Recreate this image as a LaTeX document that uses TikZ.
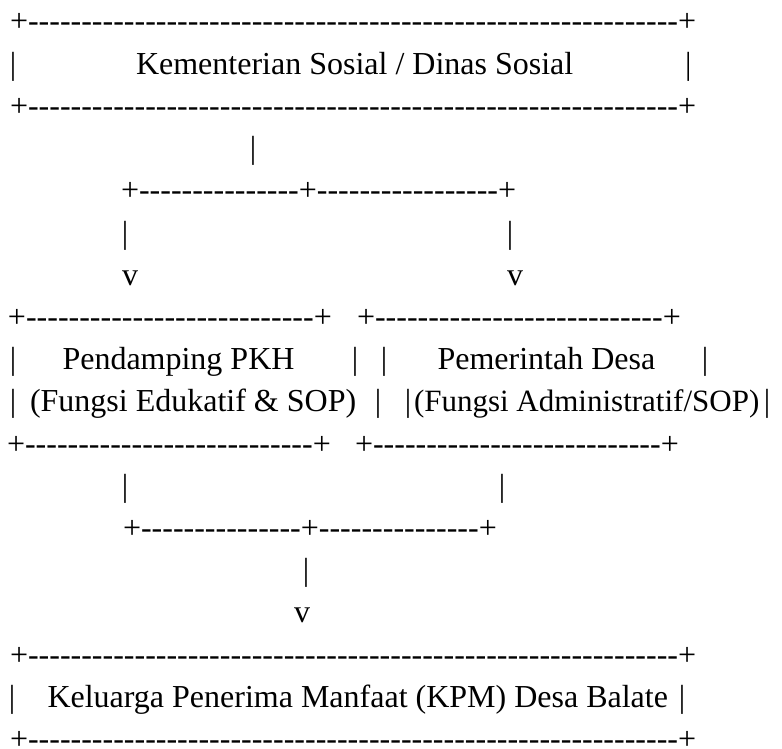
\documentclass[tikz,border=0pt]{standalone}
\usepackage{fontspec}
\setmainfont{Liberation Serif}[Ligatures=TeXOff]
\usepackage{tikz}

% a run of n hyphens
\newcommand{\dashrun}[1]{\foreach \k in {1,...,#1}{-}}

\begin{document}
\begin{tikzpicture}[x=1pt, y=-1pt,
    asc/.style={inner sep=0pt, outer sep=0pt, anchor=base west,
                font=\fontsize{32}{38}\selectfont},
  ]
  \useasboundingbox (0,0) rectangle (782,749);

  % Kementerian
  \node[asc] (kemT) at (10, 32) {+\dashrun{61}+};
  \node[asc] (kemL) at (9.8, 74.2) {|};
  \node[asc] (kem) at (136, 74.2) {Kementerian Sosial / Dinas Sosial};
  \node[asc] (kemR) at (685, 74.2) {|};
  \node[asc] (kemB) at (10, 116.4) {+\dashrun{61}+};

  % split
  \node[asc] (stemA) at (249.8, 158.6) {|};
  \node[asc] (splitA) at (121, 200.8) {+\dashrun{15}+\dashrun{17}+};
  \node[asc] (legL) at (121.8, 243) {|};
  \node[asc] (legR) at (506.8, 243) {|};
  \node[asc] (tipL) at (122, 285.2) {v};
  \node[asc] (tipR) at (507, 285.2) {v};

  % Pendamping / Pemerintah
  \node[asc] (pkhT) at (8, 327.4) {+\dashrun{27}+};
  \node[asc] (desaT) at (357, 327.4) {+\dashrun{27}+};
  \node[asc] (pkhL) at (9.8, 369.6) {|};
  \node[asc] (pkh) at (62.5, 369.6) {Pendamping PKH};
  \node[asc] (pkhR) at (351.8, 369.6) {|};
  \node[asc] (desaL) at (380.8, 369.6) {|};
  \node[asc] (desa) at (437.5, 369.6) {Pemerintah Desa};
  \node[asc] (desaR) at (701.8, 369.6) {|};
  \node[asc] (pkhL2) at (9.8, 411.8) {|};
  \node[asc] (pkhF) at (30, 411.8) {(Fungsi Edukatif \& SOP)};
  \node[asc] (pkhR2) at (374.8, 411.8) {|};
  \node[asc] (desaL2) at (404.8, 411.8) {|};
  \node[asc, font=\fontsize{31}{38}\selectfont] (desaF) at (414, 411.8)
    {(Fungsi Administratif/SOP)};
  \node[asc] (desaR2) at (763.8, 411.8) {|};
  \node[asc] (pkhB) at (7, 454) {+\dashrun{27}+};
  \node[asc] (desaB) at (355, 454) {+\dashrun{27}+};

  % merge
  \node[asc] (footL) at (121.8, 496.2) {|};
  \node[asc] (footR) at (498.8, 496.2) {|};
  \node[asc] (mergeA) at (123, 538.4) {+\dashrun{15}+\dashrun{15}+};
  \node[asc] (stemB) at (302.8, 580.6) {|};
  \node[asc] (tipB) at (294, 622.8) {v};

  % KPM
  \node[asc] (kpmT) at (10, 665) {+\dashrun{61}+};
  \node[asc] (kpmL) at (8.8, 707.2) {|};
  \node[asc] (kpm) at (47.5, 707.2) {Keluarga Penerima Manfaat (KPM) Desa Balate};
  \node[asc] (kpmR) at (678.8, 707.2) {|};
  \node[asc] (kpmB) at (10, 749) {+\dashrun{61}+};
\end{tikzpicture}
\end{document}
